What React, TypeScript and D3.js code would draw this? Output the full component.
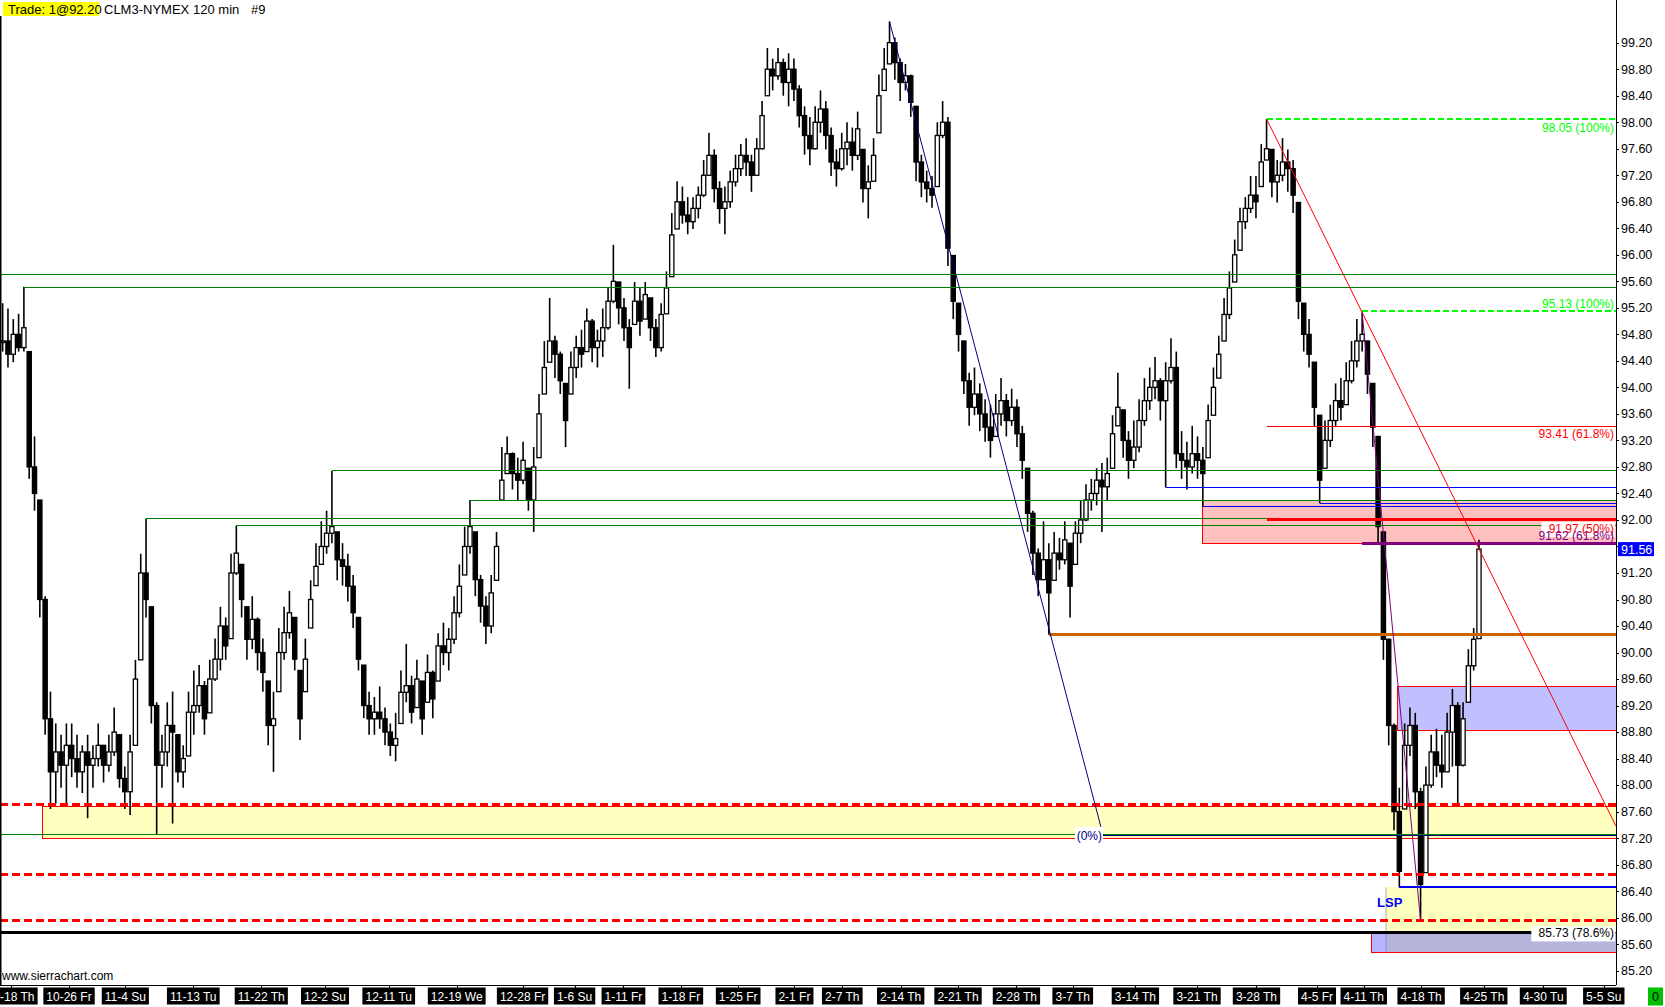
import React from 'react';
import * as d3 from 'd3';

// ---- chart data (CLM3-NYMEX, 120 min; one column = several bars) ----
const highs = [
  95.27, 95.19, 95.03, 95.11, 95.52, 94.54, 93.26, 92.30, 90.85, 89.41,
  88.93, 88.76, 88.93, 88.93, 88.76, 88.60, 88.76, 88.60, 88.93, 88.60,
  88.76, 89.17, 88.76, 88.28, 88.76, 89.89, 91.49, 92.02, 90.69, 89.25,
  88.76, 89.25, 89.41, 88.76, 88.60, 89.41, 89.73, 89.81, 89.57, 89.89,
  90.21, 90.69, 90.53, 91.49, 91.91, 91.33, 90.69, 90.85, 90.53, 90.21,
  89.57, 89.41, 90.37, 90.69, 90.93, 90.53, 89.73, 90.21, 91.09, 91.65,
  91.98, 92.14, 92.74, 91.82, 91.65, 91.49, 91.17, 90.53, 89.81, 89.41,
  89.33, 89.49, 89.17, 88.93, 89.09, 89.73, 90.13, 89.65, 89.89, 89.57,
  89.97, 89.73, 90.29, 90.45, 90.37, 90.85, 91.33, 91.90, 92.30, 91.82,
  91.17, 90.85, 91.17, 91.82, 93.10, 93.26, 93.02, 92.94, 93.18, 92.78,
  93.10, 93.90, 94.70, 95.35, 94.78, 94.54, 94.06, 94.54, 94.78, 94.87,
  95.19, 95.03, 94.87, 95.19, 95.51, 96.15, 95.59, 95.35, 95.03, 95.59,
  95.51, 95.59, 95.35, 95.03, 95.27, 95.75, 96.63, 97.11, 97.03, 96.87,
  96.87, 97.03, 97.43, 97.84, 97.59, 97.11, 97.03, 97.27, 97.51, 97.67,
  97.76, 97.51, 97.76, 98.32, 99.12, 98.96, 99.12, 98.96, 99.04, 98.96,
  98.56, 98.24, 98.08, 98.24, 98.48, 98.32, 97.92, 97.59, 97.84, 98.00,
  97.92, 98.16, 97.59, 97.35, 97.76, 98.72, 99.12, 99.52, 99.28, 98.96,
  98.88, 98.72, 98.24, 97.51, 97.27, 97.19, 98.00, 98.32, 98.08, 95.99,
  95.27, 94.70, 94.22, 94.30, 94.06, 93.82, 93.74, 93.90, 94.14, 93.90,
  93.98, 93.82, 93.42, 92.78, 92.14, 91.57, 91.98, 91.65, 91.82, 91.73,
  91.98, 91.65, 91.98, 92.30, 92.54, 92.62, 92.78, 92.86, 92.94, 93.58,
  94.22, 93.66, 93.34, 93.50, 93.82, 94.14, 94.30, 94.46, 94.14, 94.38,
  94.74, 94.54, 93.34, 93.18, 93.42, 93.26, 93.10, 93.74, 94.30, 94.78,
  95.35, 95.75, 96.23, 96.71, 96.87, 97.19, 97.19, 97.67, 98.05, 97.59,
  97.43, 97.76, 97.59, 97.43, 96.79, 95.27, 95.03, 94.38, 93.58, 93.50,
  93.74, 94.06, 94.14, 94.38, 94.70, 95.03, 95.13, 94.70, 94.06, 93.26,
  91.82, 90.21, 88.93, 87.96, 88.93, 89.17, 89.09, 87.96, 88.28, 88.76,
  88.85, 88.76, 89.09, 89.45, 89.25, 89.25, 90.05, 90.37, 91.70,
];

const lows = [
  94.54, 94.30, 94.38, 94.54, 94.54, 92.62, 92.14, 90.53, 88.76, 87.64,
  87.72, 87.96, 87.72, 88.12, 87.96, 87.88, 87.50, 87.96, 88.28, 88.04,
  88.20, 88.44, 87.96, 87.64, 87.55, 88.60, 89.89, 90.53, 88.93, 87.25,
  87.96, 88.28, 87.42, 88.04, 87.96, 88.44, 88.76, 89.09, 88.76, 89.09,
  89.57, 89.73, 89.89, 90.21, 91.17, 90.53, 89.89, 90.05, 89.73, 89.41,
  88.60, 88.20, 89.41, 89.89, 90.21, 89.73, 88.68, 89.41, 90.37, 91.01,
  91.33, 91.49, 91.65, 91.09, 91.01, 90.77, 90.37, 89.73, 89.01, 88.76,
  88.76, 88.85, 88.60, 88.44, 88.36, 88.93, 89.25, 88.93, 89.17, 88.76,
  89.25, 89.01, 89.57, 89.81, 89.73, 90.13, 90.53, 91.17, 91.49, 90.85,
  90.45, 90.13, 90.29, 91.09, 92.30, 92.70, 92.46, 92.30, 92.54, 92.14,
  91.82, 92.94, 93.90, 94.38, 94.14, 93.90, 93.10, 93.90, 94.14, 94.30,
  94.54, 94.38, 94.30, 94.46, 94.87, 95.27, 94.95, 94.70, 93.98, 94.95,
  94.78, 95.03, 94.70, 94.46, 94.54, 95.11, 95.67, 96.39, 96.47, 96.31,
  96.39, 96.55, 96.87, 97.19, 96.79, 96.47, 96.31, 96.71, 97.03, 97.19,
  97.19, 96.95, 97.19, 97.59, 98.40, 98.48, 98.64, 98.40, 98.24, 98.32,
  97.92, 97.51, 97.35, 97.59, 97.84, 97.59, 97.19, 97.03, 97.27, 97.35,
  97.27, 97.43, 96.79, 96.55, 97.11, 97.84, 98.48, 98.88, 98.64, 98.32,
  98.48, 98.08, 97.11, 96.87, 96.79, 96.71, 97.03, 97.76, 95.83, 95.03,
  94.54, 93.90, 93.42, 93.58, 93.34, 93.18, 92.94, 93.26, 93.42, 93.26,
  93.42, 93.10, 92.62, 91.82, 91.17, 90.85, 91.09, 90.27, 91.09, 91.25,
  91.33, 90.53, 91.33, 91.65, 91.98, 92.14, 92.22, 91.82, 92.30, 92.78,
  93.42, 92.94, 92.62, 92.78, 93.02, 93.42, 93.66, 93.82, 93.50, 92.49,
  94.06, 92.78, 92.62, 92.46, 92.70, 92.62, 92.20, 92.94, 93.58, 94.14,
  94.70, 95.03, 95.59, 96.07, 96.39, 96.63, 96.55, 97.03, 97.43, 96.87,
  96.79, 97.11, 96.95, 96.63, 95.03, 94.54, 94.30, 93.42, 92.25, 92.78,
  93.10, 93.42, 93.50, 93.74, 94.06, 94.30, 94.54, 93.90, 93.10, 91.65,
  89.89, 88.60, 87.32, 86.46, 87.64, 88.44, 87.64, 85.96, 86.68, 87.96,
  88.12, 87.96, 88.20, 88.28, 87.70, 88.28, 89.25, 89.73, 90.21,
];

const closes = [
  94.70, 94.50, 94.80, 94.60, 94.90, 92.80, 92.40, 90.80, 89.00, 88.20,
  88.50, 88.30, 88.60, 88.40, 88.20, 88.50, 88.30, 88.40, 88.60, 88.30,
  88.50, 88.80, 88.10, 87.90, 88.50, 89.60, 91.20, 90.80, 89.20, 88.30,
  88.50, 88.90, 88.80, 88.20, 88.40, 89.10, 89.20, 89.50, 89.00, 89.60,
  89.90, 90.40, 90.10, 91.20, 91.50, 90.80, 90.20, 90.50, 90.00, 89.70,
  88.90, 89.00, 90.00, 90.30, 90.60, 89.90, 89.00, 89.90, 90.80, 91.30,
  91.60, 91.80, 91.90, 91.40, 91.30, 91.00, 90.60, 89.90, 89.20, 89.00,
  89.10, 89.00, 88.80, 88.60, 88.70, 89.40, 89.50, 89.10, 89.60, 89.00,
  89.70, 89.30, 90.10, 90.00, 90.20, 90.60, 91.00, 91.60, 91.90, 91.10,
  90.70, 90.40, 90.90, 91.60, 92.60, 93.00, 92.70, 92.60, 92.90, 92.30,
  92.80, 93.60, 94.30, 94.70, 94.50, 94.10, 93.50, 94.30, 94.60, 94.50,
  95.00, 94.60, 94.70, 94.90, 95.30, 95.60, 95.20, 94.90, 94.60, 95.30,
  95.00, 95.40, 94.90, 94.60, 95.10, 95.50, 96.30, 96.80, 96.60, 96.50,
  96.70, 96.90, 97.20, 97.50, 97.00, 96.70, 96.80, 97.10, 97.30, 97.50,
  97.40, 97.20, 97.60, 98.10, 98.80, 98.70, 98.90, 98.60, 98.80, 98.50,
  98.10, 97.80, 97.60, 98.00, 98.20, 97.80, 97.40, 97.30, 97.60, 97.70,
  97.50, 97.90, 97.00, 97.10, 97.50, 98.40, 98.80, 99.20, 98.90, 98.60,
  98.70, 98.30, 97.40, 97.10, 97.00, 96.90, 97.80, 98.00, 96.10, 95.30,
  94.80, 94.10, 93.70, 93.90, 93.60, 93.40, 93.20, 93.60, 93.80, 93.50,
  93.70, 93.30, 92.90, 92.10, 91.50, 91.10, 91.40, 90.90, 91.50, 91.40,
  91.70, 91.00, 91.80, 92.00, 92.30, 92.40, 92.60, 92.50, 92.70, 93.30,
  93.70, 93.20, 92.90, 93.10, 93.50, 93.80, 94.00, 94.10, 93.80, 94.10,
  94.30, 93.00, 92.90, 92.80, 93.00, 92.90, 92.70, 93.50, 94.00, 94.50,
  95.10, 95.50, 96.00, 96.50, 96.70, 96.90, 96.80, 97.40, 97.60, 97.10,
  97.20, 97.40, 97.30, 96.90, 95.30, 94.80, 94.50, 93.70, 92.60, 93.20,
  93.50, 93.80, 93.70, 94.10, 94.40, 94.70, 94.80, 94.20, 93.40, 91.90,
  90.20, 88.90, 87.60, 86.70, 88.60, 88.90, 87.90, 86.50, 88.00, 88.50,
  88.30, 88.20, 88.80, 89.20, 88.30, 89.00, 89.80, 90.20, 91.56,
];

const priceTicks = [
  85.2, 85.6, 86.0, 86.4, 86.8, 87.2, 87.6, 88.0, 88.4, 88.8, 89.2, 89.6,
  90.0, 90.4, 90.8, 91.2, 91.6, 92.0, 92.4, 92.8, 93.2, 93.6, 94.0, 94.4,
  94.8, 95.2, 95.6, 96.0, 96.4, 96.8, 97.2, 97.6, 98.0, 98.4, 98.8, 99.2,
];

const dateLabels = [
  '10-18 Th', '10-26 Fr', '11-4 Su', '11-13 Tu', '11-22 Th', '12-2 Su', '12-11 Tu',
  '12-19 We', '12-28 Fr', '1-6 Su', '1-11 Fr', '1-18 Fr', '1-25 Fr', '2-1 Fr',
  '2-7 Th', '2-14 Th', '2-21 Th', '2-28 Th', '3-7 Th', '3-14 Th', '3-21 Th',
  '3-28 Th', '4-5 Fr', '4-11 Th', '4-18 Th', '4-25 Th', '4-30 Tu', '5-5 Su',
];
// column index of each date tick
const dateIdx = [
  1.5, 12.5, 23.1, 35.9, 48.7, 60.7, 72.7, 85.5, 97.9, 107.7, 116.9, 127.7, 138.5,
  149.1, 158.1, 169.1, 179.9, 190.9, 201.5, 213.3, 224.9, 236.1, 247.5, 256.3,
  267.1, 278.9, 290.1, 301.5,
];

// drawing tool levels: [price, starting column]
const greenLevels = [[95.70, -0.5], [95.51, 4], [92.74, 62], [92.30, 88], [92.02, 27], [91.91, 44], [87.25, -0.5]];
const blueLevels = [[92.49, 219], [92.25, 248], [92.20, 226]];
const redDashed = [87.70, 86.65, 85.95];
const fibGreen = [[98.05, 238, '98.05  (100%)'], [95.15, 256, '95.13  (100%)']];
const lastPrice = 91.56;

const W = 1665;
const H = 1007;
const PR = 1616; // right edge of the price pane
const AY = 985; // date axis line

const FONT = "'Liberation Sans', Arial, sans-serif";

let ctx: CanvasRenderingContext2D | null = null;
function textW(t: string, size: number, weight = 'normal') {
  if (!ctx) ctx = document.createElement('canvas').getContext('2d');
  if (!ctx) return t.length * size * 0.55;
  ctx.font = `${weight} ${size}px ${FONT}`;
  return ctx.measureText(t).width;
}

export default function App() {
  const x = d3.scaleLinear().domain([-0.5, 303.8]).range([0, PR]);
  const y = d3.scaleLinear().domain([85.2, 99.2]).range([970.7, 42.7]);
  const cx = (i: number) => x(i);
  const colX = (i: number) => x(i);

  const bars = closes.map((c, i) => {
    const h = highs[i];
    const l = lows[i];
    const prev = i > 0 ? closes[i - 1] : c;
    const o = Math.min(h, Math.max(l, prev));
    const cc = Math.min(h, Math.max(l, c));
    return { i, o, c: cc, h, l };
  });

  const hline = (price: number, from: number, color: string, w: number, key: string, dash?: string, toX = PR) => (
    <line key={key} x1={from < 0 ? 0 : colX(from)} x2={toX} y1={y(price)} y2={y(price)}
      stroke={color} strokeWidth={w} strokeDasharray={dash} shapeRendering="crispEdges" />
  );

  const zone = (top: number, bottom: number, from: number, fill: string, stroke: string, key: string) => (
    <rect key={key} x={colX(from)} y={y(top)} width={PR - colX(from) + 2} height={y(bottom) - y(top)}
      fill={fill} stroke={stroke} strokeWidth={1} shapeRendering="crispEdges" />
  );

  const rightLabel = (txt: string, yy: number, color: string, key: string, bg = false) => {
    const w = textW(txt, 12);
    return (
      <g key={key}>
        {bg && <rect x={PR - 2 - w - 4} y={yy - 11} width={w + 5} height={15} fill="#fff" />}
        <text x={PR - 2} y={yy} fill={color} fontSize={12} textAnchor="end" fontFamily={FONT}>{txt}</text>
      </g>
    );
  };

  const navyEnd = 207.2;

  return (
    <div style={{ position: 'fixed', left: 0, top: 0 }}>
      <svg width={W} height={H} style={{ display: 'block', background: '#fff' }}>
        <defs>
          <clipPath id="pane"><rect x={0} y={0} width={PR} height={AY} /></clipPath>
        </defs>

        <g clipPath="url(#pane)">
          {/* shaded zones (under price) */}
          {zone(87.67, 87.19, 7.5, '#ffffc0', '#ff0000', 'z1')}
          {zone(92.29, 91.64, 226, '#ffc0c0', '#ff0000', 'z2')}
          {zone(89.48, 88.83, 262.6, '#c0c0ff', '#ff0000', 'z3')}
          {zone(86.46, 85.48, 260.5, '#ffffc0', 'none', 'z4')}
          <line x1={colX(260.5)} x2={colX(260.5)} y1={y(86.46)} y2={y(85.48)} stroke="#b0b0b0" strokeWidth={1} />
          {zone(85.77, 85.48, 257.7, 'rgba(90,90,255,0.45)', '#ff0000', 'z5')}

          {/* price bars */}
          <g>
            {bars.map((b) => {
              const xc = cx(b.i);
              const up = b.c >= b.o;
              const top = y(Math.max(b.o, b.c));
              const bh = Math.max(1.5, Math.abs(y(b.o) - y(b.c)));
              return (
                <g key={b.i}>
                  <line x1={xc} x2={xc} y1={y(b.h)} y2={y(b.l)} stroke="#000" strokeWidth={1.6} />
                  <rect x={xc - 2.1} y={top} width={4.2} height={bh}
                    fill={up ? '#fff' : '#000'} stroke="#000" strokeWidth={1.3} />
                </g>
              );
            })}
          </g>

          {/* horizontal drawings */}
          {greenLevels.map(([p, f], i) => hline(p, f, '#008000', 1, 'g' + i))}
          {blueLevels.map(([p, f], i) => hline(p, f, '#0000ff', 1, 'b' + i))}
          {hline(93.41, 238, '#ff0000', 1, 'r61')}
          {hline(92.0, 238, '#ff0000', 3, 'r50')}
          {hline(91.64, 256, '#800080', 3, 'p61')}
          {hline(90.27, 197, '#cc6600', 3.5, 'or')}
          {hline(86.46, 263, '#0000ff', 2, 'lsp')}
          {hline(87.24, navyEnd, '#000080', 1.5, 'navy0')}
          {hline(85.77, -0.5, '#000', 3, 'blk', undefined, 1543)}
          {redDashed.map((p, i) => hline(p, -0.5, '#ff0000', 3, 'rd' + i, '8 4'))}
          {fibGreen.map(([p, f], i) => hline(p as number, f as number, '#00ff00', 2, 'fg' + i, '6 3'))}

          {/* trend / fib lines */}
          <line x1={cx(167)} y1={y(99.52)} x2={colX(navyEnd)} y2={y(87.25)} stroke="#000080" strokeWidth={1} />
          <line x1={cx(238)} y1={y(98.05)} x2={PR} y2={y(87.38)} stroke="#ff0000" strokeWidth={1} />
          <line x1={cx(256)} y1={y(95.13)} x2={cx(267)} y2={y(85.96)} stroke="#800080" strokeWidth={1} />

          {/* labels in the pane */}
          {rightLabel(fibGreen[0][2] as string, y(98.05) + 13, '#00ff00', 'l1')}
          {rightLabel(fibGreen[1][2] as string, y(95.15) - 3, '#00ff00', 'l2')}
          {rightLabel('93.41  (61.8%)', y(93.41) + 12, '#ff0000', 'l3')}
          {rightLabel('91.97  (50%)', y(92.0) + 13, '#ff0000', 'l4', true)}
          {rightLabel('91.62  (61.8%)', y(91.64) - 4, '#800080', 'l5')}
          {rightLabel('85.73  (78.6%)', y(85.77) + 4.5, '#000', 'l6', true)}
          <rect x={colX(navyEnd) - 28} y={y(87.25) - 8} width={28} height={16} fill="#fff" />
          <text x={colX(navyEnd) - 1} y={y(87.25) + 5} fontSize={12} fill="#000080" textAnchor="end" fontFamily={FONT}>(0%)</text>
          <text x={colX(260.5) - 9} y={y(86.46) + 20} fontSize={13} fontWeight="bold" fill="#0000ff" fontFamily={FONT}>LSP</text>
        </g>

        {/* frame */}
        <line x1={0.75} x2={0.75} y1={16} y2={AY} stroke="#000" strokeWidth={1.5} />
        <line x1={PR + 0.5} x2={PR + 0.5} y1={0} y2={AY} stroke="#000" strokeWidth={1} />
        <line x1={0} x2={PR} y1={AY + 0.5} y2={AY + 0.5} stroke="#000" strokeWidth={1} />

        {/* header */}
        <rect x={3} y={2} width={96} height={14} fill="#ffff00" />
        <text x={8} y={13.5} fontSize={13} fontFamily={FONT} fill="#000">Trade: 1@92.20</text>
        <text x={104} y={13.5} fontSize={13} fontFamily={FONT} fill="#000">CLM3-NYMEX</text>
        <text x={193} y={13.5} fontSize={13} fontFamily={FONT} fill="#000">120 min</text>
        <text x={251} y={13.5} fontSize={13} fontFamily={FONT} fill="#000">#9</text>

        <text x={2} y={980} fontSize={12} fontFamily={FONT} fill="#000">www.sierrachart.com</text>

        {/* price axis */}
        {priceTicks.map((v) => (
          <g key={v}>
            <line x1={PR} x2={PR + 3} y1={Math.round(y(v)) + 0.5} y2={Math.round(y(v)) + 0.5} stroke="#000" />
            <text x={1621} y={y(v)} dy="0.35em" fontSize={12.5} fontFamily={FONT} fill="#000">{v.toFixed(2)}</text>
          </g>
        ))}
        <rect x={1618} y={y(lastPrice) - 7} width={36} height={14} fill="#0000ff" />
        <text x={1621} y={y(lastPrice)} dy="0.36em" fontSize={12.5} fontFamily={FONT} fill="#fff">{lastPrice.toFixed(2)}</text>

        {/* date axis */}
        {dateLabels.map((d, i) => {
          const xc = cx(dateIdx[i]);
          const w = textW(d, 12) + 6;
          return (
            <g key={d}>
              <rect x={xc - w / 2} y={987.5} width={w} height={17} fill="#000" />
              <line x1={Math.round(xc) + 0.5} x2={Math.round(xc) + 0.5} y1={AY} y2={988} stroke="#000" />
              <text x={xc} y={1000.5} fontSize={12} fontFamily={FONT} fill="#fff" textAnchor="middle">{d}</text>
            </g>
          );
        })}
        <rect x={1648} y={987.5} width={15} height={18} fill="#00c000" />
        <text x={1655.5} y={1001} fontSize={12.5} fontFamily={FONT} fill="#000" textAnchor="middle">0</text>
      </svg>
    </div>
  );
}
